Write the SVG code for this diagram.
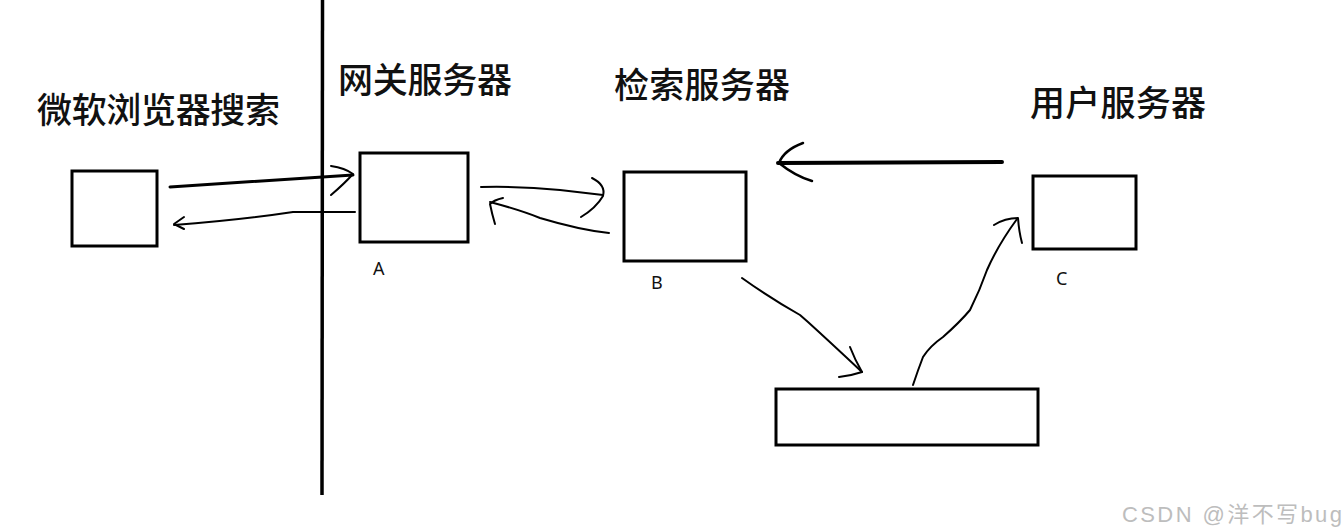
<svg xmlns="http://www.w3.org/2000/svg" width="1344" height="527" viewBox="0 0 1344 527">
<style>
.box{fill:none;stroke:#000;stroke-width:3}
.cn{font-family:"Noto Sans CJK SC","Noto Sans",sans-serif;font-size:35px;font-weight:500;fill:#111}
.lbl{font-family:"Noto Sans","Liberation Sans",sans-serif;font-size:18px;fill:#111}
.ln{fill:none;stroke:#000;stroke-linecap:round;stroke-linejoin:round}
</style>
<rect width="1344" height="527" fill="#fff"/>
<line x1="322.5" y1="0" x2="322" y2="495" stroke="#000" stroke-width="3.5"/>
<g id="browser">
<rect class="box" x="72" y="171" width="85" height="75"/>
<text class="cn" x="37" y="123" textLength="243">微软浏览器搜索</text>
</g>
<g id="gateway">
<rect class="box" x="360" y="153" width="108" height="89"/>
<text class="cn" x="338" y="93" textLength="174">网关服务器</text>
<text class="lbl" x="373" y="275">A</text>
</g>
<g id="search">
<rect class="box" x="624" y="172" width="122" height="89"/>
<text class="cn" x="614" y="98" textLength="176">检索服务器</text>
<text class="lbl" x="651" y="289">B</text>
</g>
<g id="user">
<rect class="box" x="1033" y="176" width="103" height="73"/>
<text class="cn" x="1030" y="116" textLength="176">用户服务器</text>
<text class="lbl" x="1056" y="285">C</text>
</g>
<g id="store">
<rect class="box" x="776" y="389" width="262" height="56" stroke-width="4"/>
</g>
<g id="connectors">
<path class="ln" stroke-width="3" d="M170 187 L353 175"/>
<path class="ln" stroke-width="2" d="M331 166 Q345 168 353 174 Q344 184 331 195"/>
<path class="ln" stroke-width="2" d="M355 212 L293 212 Q240 220 174 225"/>
<path class="ln" stroke-width="2" d="M184 217 L174 224 L184 229"/>
<path class="ln" stroke-width="2" d="M481 187 Q520 186 560 190 L603 195"/>
<path class="ln" stroke-width="2" d="M592 178 Q606 185 603 196 Q596 208 581 217"/>
<path class="ln" stroke-width="2" d="M609 233 Q580 230 540 218 Q520 210 490 202"/>
<path class="ln" stroke-width="2" d="M503 198 Q494 200 490 204 Q492 214 495 224"/>
<path class="ln" stroke-width="4" d="M1002 162 L778 163"/>
<path class="ln" stroke-width="2.5" d="M803 143 Q784 150 779 163 Q795 176 812 181"/>
<path class="ln" stroke-width="2" d="M742 278 Q770 298 800 315 L808 322 Q830 342 862 372"/>
<path class="ln" stroke-width="2" d="M850 347 Q855 360 862 372 Q850 376 839 377"/>
<path class="ln" stroke-width="2" d="M913 385 Q918 370 923 357 Q930 346 943 337 Q960 322 970 310 Q980 290 987 270 Q998 245 1017 219"/>
<path class="ln" stroke-width="2" d="M994 225 Q1005 218 1018 218 Q1019 232 1022 243"/>
</g>
<text x="1122" y="522" font-family="Liberation Sans, Noto Sans CJK SC, sans-serif" font-size="22" fill="#bdbdbd" textLength="220">CSDN @洋不写bug</text>
</svg>
